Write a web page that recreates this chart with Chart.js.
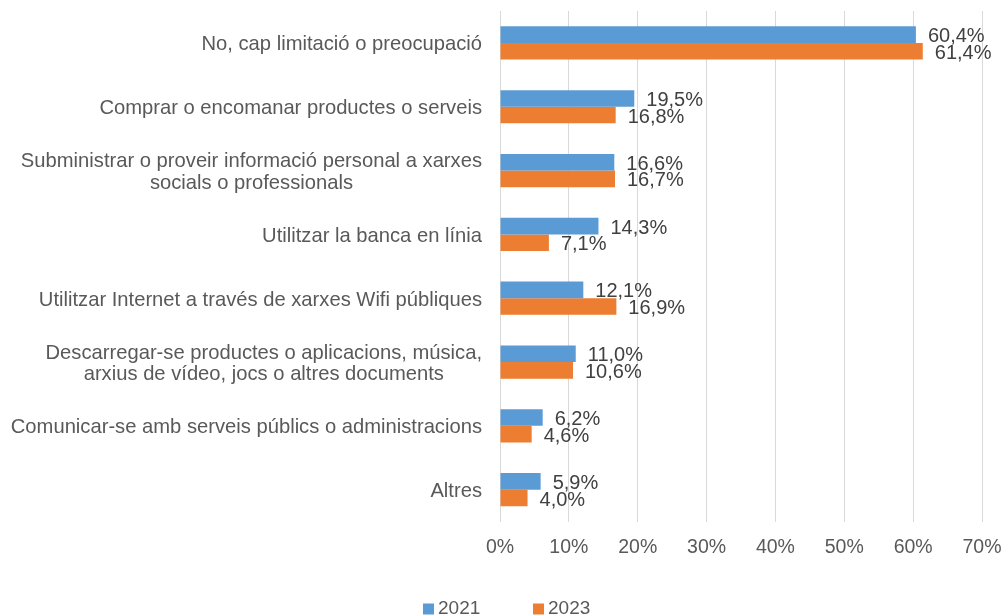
<!DOCTYPE html>
<html>
<head>
<meta charset="utf-8">
<script src="https://cdn.jsdelivr.net/npm/chart.js@4.4.0/dist/chart.umd.min.js"></script>
<style>
  html, body { margin: 0; padding: 0; background: #fff; overflow: hidden; }
  #wrap { position: relative; width: 1002px; height: 615px; }
</style>
</head>
<body>
<div id="wrap"><canvas id="chart"></canvas></div>
<script>
// Chart data
const categories = [
  'No, cap limitació o preocupació',
  'Comprar o encomanar productes o serveis',
  ['Subministrar o proveir informació personal a xarxes', 'socials o professionals'],
  'Utilitzar la banca en línia',
  'Utilitzar Internet a través de xarxes Wifi públiques',
  ['Descarregar-se productes o aplicacions, música,', 'arxius de vídeo, jocs o altres documents'],
  'Comunicar-se amb serveis públics o administracions',
  'Altres'
];
const values2021 = [60.4, 19.5, 16.6, 14.3, 12.1, 11.0, 6.2, 5.9];
const values2023 = [61.4, 16.8, 16.7, 7.1, 16.9, 10.6, 4.6, 4.0];
const seriesNames = ['2021', '2023'];
const seriesColors = ['#5B9BD5', '#ED7D31'];
const xTickValues = [0, 10, 20, 30, 40, 50, 60, 70];

const FONT = '"Liberation Sans", Arial, sans-serif';

// Category labels: block right aligned, lines centered inside the block
const categoryLabels = {
  id: 'categoryLabels',
  afterDraw(chart) {
    const ctx = chart.ctx;
    const y = chart.scales.y;
    const right = chart.chartArea.left - 18;
    ctx.save();
    ctx.font = '20.2px ' + FONT;
    ctx.fillStyle = '#595959';
    ctx.textAlign = 'center';
    ctx.textBaseline = 'middle';
    categories.forEach((lab, i) => {
      const lines = Array.isArray(lab) ? lab : [lab];
      const w = Math.max(...lines.map(l => ctx.measureText(l).width));
      const cx = right - w / 2;
      const cy = y.getPixelForValue(i) + 2;
      lines.forEach((l, k) => {
        ctx.fillText(l, cx, cy + (k - (lines.length - 1) / 2) * 21.5);
      });
    });
    ctx.restore();
  }
};

// Value labels right of each bar
const valueLabels = {
  id: 'valueLabels',
  afterDatasetsDraw(chart) {
    const ctx = chart.ctx;
    ctx.save();
    ctx.font = '20px ' + FONT;
    ctx.fillStyle = '#404040';
    ctx.textAlign = 'left';
    ctx.textBaseline = 'middle';
    chart.data.datasets.forEach((ds, di) => {
      chart.getDatasetMeta(di).data.forEach((bar, i) => {
        const txt = ds.data[i].toFixed(1).replace('.', ',') + '%';
        ctx.fillText(txt, bar.x + 12, bar.y + 2);
      });
    });
    ctx.restore();
  }
};

// Legend at the bottom, small square + label
const bottomLegend = {
  id: 'bottomLegend',
  afterDraw(chart) {
    const ctx = chart.ctx;
    const cy = 609;
    let x = 423;
    ctx.save();
    ctx.font = '19px ' + FONT;
    ctx.textAlign = 'left';
    ctx.textBaseline = 'middle';
    chart.data.datasets.forEach(ds => {
      ctx.fillStyle = ds.backgroundColor;
      ctx.fillRect(x, cy - 5.5, 11, 11);
      ctx.fillStyle = '#595959';
      ctx.fillText(ds.label, x + 15, cy);
      x += 110;
    });
    ctx.restore();
  }
};

new Chart(document.getElementById('chart'), {
  type: 'bar',
  data: {
    labels: categories,
    datasets: [
      { label: seriesNames[0], data: values2021, backgroundColor: seriesColors[0] },
      { label: seriesNames[1], data: values2023, backgroundColor: seriesColors[1] }
    ]
  },
  options: {
    indexAxis: 'y',
    responsive: true,
    maintainAspectRatio: false,
    animation: false,
    categoryPercentage: 0.52,
    barPercentage: 1,
    layout: { padding: { top: 11, right: 20, bottom: 42, left: 0 } },
    plugins: {
      legend: { display: false },
      tooltip: { enabled: false }
    },
    scales: {
      x: {
        min: 0,
        max: 70,
        afterBuildTicks: (scale) => { scale.ticks = xTickValues.map(v => ({ value: v })); },
        afterFit: (scale) => { scale.paddingRight = 0; scale.paddingLeft = 0; },
        ticks: {
          callback: (v) => v + '%',
          color: '#595959',
          font: { size: 19.5, family: FONT },
          padding: 14,
          maxRotation: 0
        },
        grid: { color: '#D9D9D9', drawTicks: false },
        border: { display: false }
      },
      y: {
        ticks: { display: false },
        grid: { display: false },
        border: { display: false },
        afterFit: (scale) => { scale.width = 500; }
      }
    }
  },
  plugins: [categoryLabels, valueLabels, bottomLegend]
});
</script>
</body>
</html>
